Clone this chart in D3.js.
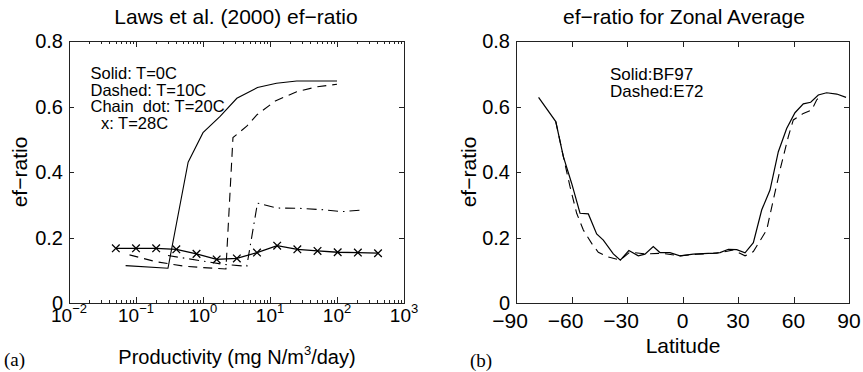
<!DOCTYPE html>
<html>
<head>
<meta charset="utf-8">
<script src="https://cdn.jsdelivr.net/npm/d3@7"></script>
<style>
  body { margin: 0; background: #fff; }
  svg text { font-family: "Liberation Sans", Arial, sans-serif; fill: #000; }
</style>
</head>
<body>
<script>
"use strict";

// Panel (a): Laws et al. (2000) ef-ratio vs productivity  [productivity, ef-ratio]
var lawsT0 = [[0.07,0.114],[0.3,0.106],[0.6,0.43],[1.0,0.52],[1.8,0.57],[3.2,0.625],
              [6.5,0.658],[12.5,0.671],[25,0.678],[100,0.678]];
var lawsT10 = [[0.08,0.147],[0.2,0.126],[0.5,0.113],[1.0,0.108],[2.2,0.104],[2.8,0.505],
               [4.5,0.54],[6.4,0.575],[12,0.617],[25,0.645],[50,0.66],[100,0.668]];
var lawsT20 = [[0.3,0.145],[1.0,0.128],[2.0,0.118],[4.5,0.112],[6.5,0.305],[12.5,0.29],
               [28,0.289],[60,0.285],[120,0.279],[234,0.284]];
var lawsT28 = [[0.05,0.167],[0.1,0.167],[0.2,0.167],[0.4,0.164],[0.8,0.150],[1.6,0.133],
               [3.2,0.136],[6.4,0.154],[12.8,0.175],[25.6,0.164],[51.2,0.159],[102.4,0.155],
               [204.8,0.154],[409.6,0.152]];

// Panel (b): zonal average ef-ratio vs latitude  [latitude, ef-ratio]
var zonalBF97 = [[-77.8,0.628],[-68.5,0.554],[-64.4,0.447],[-59.9,0.365],[-55.4,0.274],
                 [-50.9,0.272],[-46.4,0.211],[-42.8,0.192],[-37.4,0.150],[-33.6,0.131],
                 [-29,0.160],[-23.9,0.144],[-20.3,0.149],[-15.8,0.172],[-12.2,0.154],
                 [-6.8,0.154],[-1.4,0.144],[5.8,0.149],[16.6,0.152],[20.3,0.154],
                 [24.8,0.164],[29.3,0.163],[33.8,0.153],[38.3,0.184],[42.8,0.284],
                 [47.3,0.345],[51.8,0.462],[56.3,0.533],[60.8,0.581],[65.3,0.608],
                 [69.3,0.613],[73.4,0.635],[77.9,0.642],[83.4,0.638],[88.4,0.628]];
var zonalE72 = [[-68.5,0.554],[-64.4,0.447],[-60.8,0.355],[-57.2,0.274],[-53.6,0.223],
                [-49.1,0.182],[-45.5,0.155],[-40.5,0.141],[-33.8,0.131],[-28.5,0.155],
                [-20,0.150],[-11.2,0.152],[-1.4,0.144],[7.7,0.149],[18.5,0.152],
                [27.5,0.162],[33.8,0.144],[38.3,0.157],[45.5,0.223],[49.1,0.315],
                [52.7,0.406],[57.2,0.508],[59.9,0.559],[65.3,0.579],[69.8,0.589],
                [72.5,0.62],[75,0.635]];

var yTicks = [0, 0.2, 0.4, 0.6, 0.8];
var logTickExps = [-2, -1, 0, 1, 2, 3];
var latTicks = [-90, -60, -30, 0, 30, 60, 90];

var W = 863, H = 372;
var svg = d3.select("body").append("svg").attr("width", W).attr("height", H);

var plotTop = 41, plotBottom = 303;
var y = d3.scaleLinear().domain([0, 0.8]).range([plotBottom, plotTop]);
var xa = d3.scaleLog().domain([1e-2, 1e3]).range([69, 404]);
var xb = d3.scaleLinear().domain([-90, 90]).range([516, 849]);

var fmtY = function(d) { return d === 0 ? "0" : d3.format(".1f")(d); };

function frame(g, x0, x1) {
    g.append("rect").attr("x", x0 + 0.5).attr("y", plotTop + 0.5).attr("width", x1 - x0).attr("height", plotBottom - plotTop)
        .attr("fill", "none").attr("stroke", "#222").attr("stroke-width", 1);
    // y ticks inward on both sides
    g.selectAll(".yt").data(yTicks).enter().append("path")
        .attr("d", function(d) {
            var py = Math.round(y(d)) + 0.5;
            return "M" + x0 + "," + py + "h5M" + x1 + "," + py + "h-5";
        })
        .attr("stroke", "#222");
    g.selectAll(".yl").data(yTicks).enter().append("text")
        .attr("x", x0 - 6).attr("y", function(d) { return y(d) + 7; })
        .attr("text-anchor", "end").style("font-size", "20px").text(fmtY);
}

// ---------- panel (a)
var ga = svg.append("g");
frame(ga, 69, 404);
var minor = [];
logTickExps.forEach(function(e) {
    if (e < 3) for (var k = 2; k <= 9; k++) minor.push(k * Math.pow(10, e));
});
ga.selectAll(".mn").data(minor).enter().append("path")
    .attr("d", function(d) { var px = Math.round(xa(d)) + 0.5; return "M" + px + "," + plotBottom + "v-3M" + px + "," + plotTop + "v3"; })
    .attr("stroke", "#222");
ga.selectAll(".mj").data(logTickExps).enter().append("path")
    .attr("d", function(e) { var px = Math.round(xa(Math.pow(10, e))) + 0.5; return "M" + px + "," + plotBottom + "v-6M" + px + "," + plotTop + "v6"; })
    .attr("stroke", "#222");
var xl = ga.selectAll(".xl").data(logTickExps).enter().append("text")
    .attr("x", function(e) { return xa(Math.pow(10, e)); }).attr("y", 322)
    .attr("text-anchor", "middle").style("font-size", "19px");
xl.append("tspan").text("10");
xl.append("tspan").attr("dy", -9).style("font-size", "13px")
    .text(function(e) { return e < 0 ? "\u2212" + (-e) : String(e); });

var lineA = d3.line().x(function(d) { return xa(d[0]); }).y(function(d) { return y(d[1]); });
ga.append("path").datum(lawsT0).attr("d", lineA).attr("fill", "none").attr("stroke", "#000").attr("stroke-width", 1.1);
ga.append("path").datum(lawsT10).attr("d", lineA).attr("fill", "none").attr("stroke", "#000").attr("stroke-width", 1.1).attr("stroke-dasharray", "9,6");
ga.append("path").datum(lawsT20).attr("d", lineA).attr("fill", "none").attr("stroke", "#000").attr("stroke-width", 1.1).attr("stroke-dasharray", "10,5,1.5,5");
ga.append("path").datum(lawsT28).attr("d", lineA).attr("fill", "none").attr("stroke", "#000").attr("stroke-width", 1.3);
ga.selectAll(".mk").data(lawsT28).enter().append("path")
    .attr("d", function(d) {
        var cx = xa(d[0]), cy = y(d[1]), s = 3.8;
        return "M" + (cx - s) + "," + (cy - s) + "L" + (cx + s) + "," + (cy + s) +
               "M" + (cx - s) + "," + (cy + s) + "L" + (cx + s) + "," + (cy - s);
    })
    .attr("stroke", "#000").attr("stroke-width", 1.3);

var legA = ["Solid: T=0C", "Dashed: T=10C", "Chain\u00a0 dot: T=20C", "x: T=28C"];
ga.selectAll(".lg").data(legA).enter().append("text")
    .attr("x", function(d, i) { return i === 3 ? 101 : 90.5; })
    .attr("y", function(d, i) { return 79 + i * 16.6; })
    .style("font-size", "16.5px")
    .text(function(d) { return d; });

ga.append("text").attr("x", 236).attr("y", 24).attr("text-anchor", "middle")
    .style("font-size", "21px").text("Laws et al. (2000) ef\u2212ratio");
ga.append("text").attr("transform", "translate(27,172) rotate(-90)").attr("text-anchor", "middle")
    .style("font-size", "21px").text("ef\u2212ratio");
var xlab = ga.append("text").attr("x", 237).attr("y", 364).attr("text-anchor", "middle").style("font-size", "20px");
xlab.append("tspan").text("Productivity (mg N/m");
xlab.append("tspan").attr("dy", -9).style("font-size", "13px").text("3");
xlab.append("tspan").attr("dy", 9).text("/day)");
ga.append("text").attr("x", 4).attr("y", 366).style("font-family", "'Liberation Serif', 'Times New Roman', serif")
    .style("font-size", "19px").text("(a)");

// ---------- panel (b)
var gb = svg.append("g");
frame(gb, 516, 849);
gb.selectAll(".xt").data(latTicks).enter().append("path")
    .attr("d", function(d) { var px = Math.round(xb(d)) + 0.5; return "M" + px + "," + plotBottom + "v-6M" + px + "," + plotTop + "v6"; })
    .attr("stroke", "#222");
gb.selectAll(".xlb").data(latTicks).enter().append("text")
    .attr("x", function(d) { return xb(d) - (d < 0 ? 6 : 0); }).attr("y", 328)
    .attr("text-anchor", "middle").style("font-size", "21px")
    .text(function(d) { return d < 0 ? "\u2212" + (-d) : String(d); });

var lineB = d3.line().x(function(d) { return xb(d[0]); }).y(function(d) { return y(d[1]); });
gb.append("path").datum(zonalBF97).attr("d", lineB).attr("fill", "none").attr("stroke", "#000").attr("stroke-width", 1.2);
gb.append("path").datum(zonalE72).attr("d", lineB).attr("fill", "none").attr("stroke", "#000").attr("stroke-width", 1.1).attr("stroke-dasharray", "9,6");

gb.selectAll(".lgb").data(["Solid:BF97", "Dashed:E72"]).enter().append("text")
    .attr("x", 610).attr("y", function(d, i) { return 80 + i * 16.6; })
    .style("font-size", "17px").text(function(d) { return d; });

gb.append("text").attr("x", 684).attr("y", 24).attr("text-anchor", "middle")
    .style("font-size", "21px").text("ef\u2212ratio for Zonal Average");
gb.append("text").attr("transform", "translate(476,172) rotate(-90)").attr("text-anchor", "middle")
    .style("font-size", "21px").text("ef\u2212ratio");
gb.append("text").attr("x", 683).attr("y", 353).attr("text-anchor", "middle")
    .style("font-size", "21px").text("Latitude");
gb.append("text").attr("x", 470).attr("y", 367).style("font-family", "'Liberation Serif', 'Times New Roman', serif")
    .style("font-size", "19px").text("(b)");
</script>
</body>
</html>
